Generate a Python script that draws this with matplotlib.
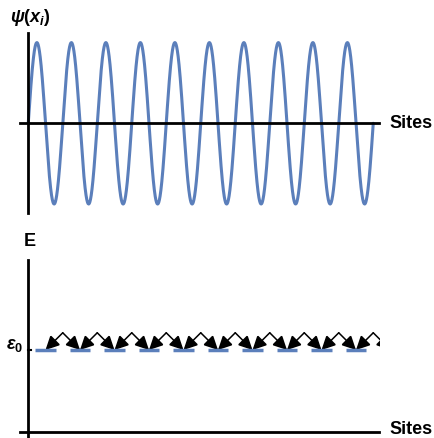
import numpy as np
import matplotlib
matplotlib.use("Agg")
import matplotlib.pyplot as plt
from matplotlib.patches import FancyArrowPatch

plt.rcParams["font.family"] = ["Liberation Sans", "DejaVu Sans"]
plt.rcParams["mathtext.fontset"] = "custom"
plt.rcParams["mathtext.rm"] = "Liberation Sans:bold"
plt.rcParams["mathtext.it"] = "Liberation Sans:italic:bold"
plt.rcParams["mathtext.bf"] = "Liberation Sans:bold"

# ── Lattice / model values ───────────────────────────────────────────────────
n_sites = 10
sites = np.arange(n_sites)          # lattice site positions
wave_periods = 10                   # ψ oscillates once per site
psi_amp = 1.0
eps0 = 1.0                          # on-site energy
hop_top = 1.21                      # apex of the hopping arrows

BLUE = "#5b7fbb"
W, H = 434, 438

# pixel <-> data helpers (site spacing 34.5 px, site 0 at x=45.5 px)
X0, DX = 45.5, 34.5
def tx(px):
    return (px - X0) / DX

fig = plt.figure(figsize=(W / 100, H / 100), dpi=100)

# ── Top panel: wave function ─────────────────────────────────────────────────
Y0, DY = 123.3, 80.7
def ty(px):
    return (Y0 - px) / DY

ax1 = fig.add_axes([0, (H - 230) / H, 380 / W, 230 / H])
ax1.set_xlim(tx(0), tx(380))
ax1.set_ylim(ty(230), ty(0))
ax1.axis("off")

x = np.linspace(sites[0] - 0.5, sites[-1] + 0.5, 3000)
psi = -psi_amp * np.sin(2 * np.pi * wave_periods / n_sites * x)
ax1.plot(x, psi, color=BLUE, lw=2.2, solid_capstyle="round")

ax1.plot([tx(20), tx(379)], [0, 0], color="black", lw=2, clip_on=False)
ax1.plot([tx(27.7), tx(27.7)], [ty(33), ty(213)], color="black", lw=2,
         clip_on=False)
ax1.text(tx(389), ty(123), "Sites", fontsize=13, fontweight="bold",
         ha="left", va="center")
ax1.text(tx(10), ty(17), r"$\psi(x_i)$", fontsize=13, ha="left", va="center")

# ── Bottom panel: energy levels and hopping ──────────────────────────────────
E0, DE = 432, 82
def te(px):
    return (E0 - px) / DE

ax2 = fig.add_axes([0, 0, 380 / W, 208 / H])
ax2.set_xlim(tx(0), tx(380))
ax2.set_ylim(te(438), te(230))
ax2.axis("off")

ax2.hlines(np.full(n_sites, eps0), sites - 0.29, sites + 0.29,
           color=BLUE, lw=2.5)

for i in sites:
    apex = (i + 0.5, hop_top)
    for target in (i, i + 1):
        arr = FancyArrowPatch(apex, (target, eps0),
                              arrowstyle="-|>,head_length=0.7,head_width=0.35",
                              mutation_scale=12, lw=1.1, color="black",
                              shrinkA=0, shrinkB=0, joinstyle="miter")
        ax2.add_patch(arr)

ax2.plot([tx(20), tx(379)], [0, 0], color="black", lw=2, clip_on=False)
ax2.plot([tx(27.7), tx(27.7)], [te(260), te(438)], color="black", lw=2,
         clip_on=False)
ax2.plot([tx(27.7), tx(31)], [eps0, eps0], color="black", lw=1.5,
         clip_on=False)
ax2.text(tx(389), te(429.5), "Sites", fontsize=13, fontweight="bold",
         ha="left", va="center")
ax2.text(tx(24), te(242), "E", fontsize=13, fontweight="bold",
         ha="left", va="center")
ax2.text(tx(23), te(345), r"$\epsilon_0$", fontsize=13,
         ha="right", va="center")

fig.savefig("out.png", dpi=100)
